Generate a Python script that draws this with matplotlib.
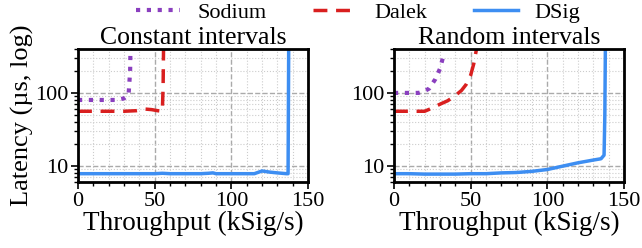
import matplotlib
matplotlib.use("Agg")
import matplotlib.pyplot as plt
from matplotlib.ticker import MultipleLocator, LogLocator, NullFormatter, FixedLocator

plt.rcParams['font.family'] = ['Liberation Serif', 'DejaVu Serif']

# constant intervals
const_sodium_x = [0, 5, 10, 15, 20, 25, 30, 33, 34, 34.5]
const_sodium_y = [80, 80, 80, 80, 80, 80, 84, 95, 200, 1000]
const_dalek_x = [0, 10, 20, 30, 38, 44, 48, 52, 55, 55.5, 56]
const_dalek_y = [56, 56, 56, 56, 57, 60, 59, 57, 56, 120, 1000]
const_dsig_x = [0, 10, 20, 30, 40, 50, 55, 60, 70, 80, 85, 88, 90, 100, 110, 115, 120, 125, 130, 136, 137, 137.5]
const_dsig_y = [7.8, 7.8, 7.8, 7.8, 7.8, 7.8, 7.9, 7.8, 7.8, 7.8, 7.9, 8.0, 7.8, 7.8, 7.8, 7.8, 8.5, 8.2, 8.0, 7.8, 7.8, 1000]

# random intervals
rand_sodium_x = [0, 8, 16, 20, 23, 27, 30, 32]
rand_sodium_y = [100, 100, 100, 106, 115, 155, 215, 310]
rand_dalek_x = [0, 10, 20, 25, 30, 35, 40, 44, 47, 50, 52, 54, 55]
rand_dalek_y = [56, 56, 56, 62, 70, 78, 92, 108, 130, 175, 250, 420, 800]
rand_dsig_x = [0, 10, 20, 30, 40, 50, 60, 70, 80, 90, 100, 110, 120, 130, 135, 137, 137.5, 138]
rand_dsig_y = [7.8, 7.8, 7.7, 7.7, 7.7, 7.8, 7.8, 8.0, 8.1, 8.4, 8.9, 9.9, 11.0, 12.0, 12.5, 14.0, 50, 1000]

titles = ['Constant intervals', 'Random intervals']
panels = [
    (const_sodium_x, const_sodium_y, const_dalek_x, const_dalek_y, const_dsig_x, const_dsig_y),
    (rand_sodium_x, rand_sodium_y, rand_dalek_x, rand_dalek_y, rand_dsig_x, rand_dsig_y),
]

c_sodium = '#8a3fbf'
c_dalek = '#d91f1f'
c_dsig = '#3d8ef2'

fig = plt.figure(figsize=(6.42, 2.48), dpi=100)
ax1 = fig.add_axes([78/642, 1 - 182/248, 230/642, 133/248])
ax2 = fig.add_axes([394/642, 1 - 182/248, 230/642, 133/248])

for ax, title, (sx, sy, dx, dy, gx, gy) in zip([ax1, ax2], titles, panels):
    l1, = ax.plot(sx, sy, color=c_sodium, lw=3, ls=(0, (1, 1.6)), label='Sodium')
    l2, = ax.plot(dx, dy, color=c_dalek, lw=2.5, ls=(0, (4, 2.5)), label='Dalek')
    l3, = ax.plot(gx, gy, color=c_dsig, lw=2.5, label='DSig')
    ax.set_yscale('log')
    ax.set_xlim(0, 150)
    ax.set_ylim(6, 400)
    ax.xaxis.set_major_locator(MultipleLocator(50))
    ax.xaxis.set_minor_locator(MultipleLocator(10))
    ax.yaxis.set_major_locator(FixedLocator([10, 100]))
    ax.yaxis.set_minor_locator(LogLocator(base=10, subs=range(2, 10)))
    ax.yaxis.set_minor_formatter(NullFormatter())
    ax.set_yticklabels(['10', '100'])
    ax.grid(which='major', color='#aaaaaa', ls='--', lw=1)
    ax.grid(which='minor', color='#cccccc', ls=':', lw=0.8)
    ax.tick_params(which='major', labelsize=16, length=5, width=1.2, direction='out', pad=2)
    ax.tick_params(which='minor', length=3, width=1, direction='out')
    for sp in ax.spines.values():
        sp.set_linewidth(2)
    ax.set_title(title, fontsize=18.5, pad=0)
    ax.set_xlabel('Throughput (kSig/s)', fontsize=19.5, labelpad=0)

ax1.set_ylabel('Latency (µs, log)', fontsize=19, labelpad=1)

fig.legend(handles=[l1, l2, l3], loc='upper center', bbox_to_anchor=(0.558, 1.07),
           ncol=3, frameon=False, fontsize=16, handlelength=2.0, columnspacing=2.1,
           handletextpad=0.75)

fig.savefig('out.png', dpi=100)
